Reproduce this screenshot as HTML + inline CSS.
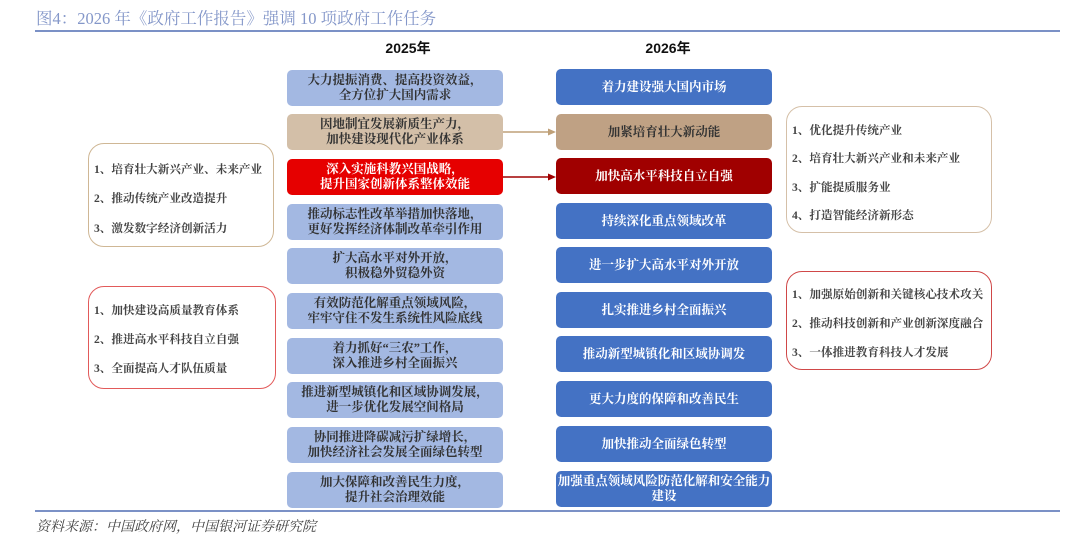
<!DOCTYPE html>
<html><head><meta charset="utf-8"><style>
*{margin:0;padding:0;box-sizing:border-box}
body{width:1080px;height:543px;background:#fff;position:relative;overflow:hidden;font-family:"Liberation Serif","Noto Serif CJK SC",serif}
.abs{position:absolute}
.title{left:36px;top:5px;font-size:16.5px;color:#8497c9;font-family:"Liberation Serif","Noto Serif CJK SC",serif}
.line{height:2px;background:#7b91c6;left:35px;width:1025px}
.hd{font-size:14px;font-weight:bold;color:#111;width:120px;text-align:center;font-family:"Liberation Sans","Noto Sans CJK SC",sans-serif}
.b{position:absolute;width:216px;height:36px;border-radius:5px;display:flex;align-items:center;justify-content:center;text-align:center;font-size:12.5px;line-height:15px;font-weight:bold}
.L{left:287px;background:#a3b8e2;color:#333}
.R{left:556px;background:#4472c4;color:#fff}
.side{position:absolute;border-radius:16px;background:#fff;font-size:11.6px;font-weight:bold;color:#444}
.side div{position:absolute;left:5px;white-space:nowrap}
.foot{left:36px;top:516px;font-size:14px;font-style:italic;color:#444}
</style></head><body>
<div class="abs title">图4：2026 年《政府工作报告》强调 10 项政府工作任务</div>
<div class="abs line" style="top:30px"></div>
<div class="abs hd" style="left:348px;top:38px">2025年</div>
<div class="abs hd" style="left:608px;top:38px">2026年</div>

<div class="b L" style="top:70px">大力提振消费、提高投资效益，<br>全方位扩大国内需求</div>
<div class="b L" style="top:114px;background:#d3bfa8">因地制宜发展新质生产力，<br>加快建设现代化产业体系</div>
<div class="b L" style="top:159px;background:#e60000;color:#fff">深入实施科教兴国战略，<br>提升国家创新体系整体效能</div>
<div class="b L" style="top:204px">推动标志性改革举措加快落地，<br>更好发挥经济体制改革牵引作用</div>
<div class="b L" style="top:248px">扩大高水平对外开放，<br>积极稳外贸稳外资</div>
<div class="b L" style="top:293px">有效防范化解重点领域风险，<br>牢牢守住不发生系统性风险底线</div>
<div class="b L" style="top:338px">着力抓好“三农”工作，<br>深入推进乡村全面振兴</div>
<div class="b L" style="top:382px">推进新型城镇化和区域协调发展，<br>进一步优化发展空间格局</div>
<div class="b L" style="top:427px">协同推进降碳减污扩绿增长，<br>加快经济社会发展全面绿色转型</div>
<div class="b L" style="top:472px">加大保障和改善民生力度，<br>提升社会治理效能</div>

<div class="b R" style="top:69px">着力建设强大国内市场</div>
<div class="b R" style="top:114px;background:#bfa184;color:#333">加紧培育壮大新动能</div>
<div class="b R" style="top:158px;background:#a00000">加快高水平科技自立自强</div>
<div class="b R" style="top:203px">持续深化重点领域改革</div>
<div class="b R" style="top:247px">进一步扩大高水平对外开放</div>
<div class="b R" style="top:292px">扎实推进乡村全面振兴</div>
<div class="b R" style="top:336px">推动新型城镇化和区域协调发</div>
<div class="b R" style="top:381px">更大力度的保障和改善民生</div>
<div class="b R" style="top:426px">加快推动全面绿色转型</div>
<div class="b R" style="top:471px">加强重点领域风险防范化解和安全能力<br>建设</div>

<svg class="abs" style="left:0;top:0" width="1080" height="543">
<line x1="503" y1="132" x2="550" y2="132" stroke="#bfa078" stroke-width="1.5"/>
<polygon points="556,132 548,128.5 548,135.5" fill="#bfa078"/>
<line x1="503" y1="177" x2="550" y2="177" stroke="#a00000" stroke-width="1.5"/>
<polygon points="556,177 548,173.5 548,180.5" fill="#a00000"/>
</svg>

<div class="side" style="left:88px;top:143px;width:186px;height:104px;border:1.5px solid #cfb795">
<div style="top:17px">1、培育壮大新兴产业、未来产业</div>
<div style="top:46px">2、推动传统产业改造提升</div>
<div style="top:76px">3、激发数字经济创新活力</div>
</div>
<div class="side" style="left:88px;top:286px;width:188px;height:103px;border:1.5px solid #e25a5a">
<div style="top:15px">1、加快建设高质量教育体系</div>
<div style="top:44px">2、推进高水平科技自立自强</div>
<div style="top:73px">3、全面提高人才队伍质量</div>
</div>
<div class="side" style="left:786px;top:106px;width:206px;height:127px;border:1.5px solid #d5c0a8">
<div style="top:15px">1、优化提升传统产业</div>
<div style="top:43px">2、培育壮大新兴产业和未来产业</div>
<div style="top:72px">3、扩能提质服务业</div>
<div style="top:100px">4、打造智能经济新形态</div>
</div>
<div class="side" style="left:786px;top:271px;width:206px;height:99px;border:1.5px solid #d04848">
<div style="top:14px">1、加强原始创新和关键核心技术攻关</div>
<div style="top:43px">2、推动科技创新和产业创新深度融合</div>
<div style="top:72px">3、一体推进教育科技人才发展</div>
</div>

<div class="abs line" style="top:510px;height:1.5px"></div>
<div class="abs foot">资料来源：中国政府网，中国银河证券研究院</div>
</body></html>
